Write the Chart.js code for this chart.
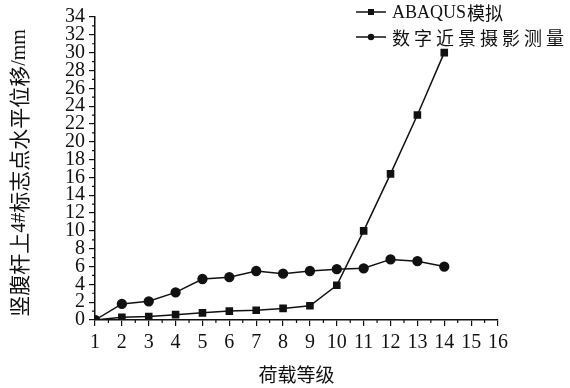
<!DOCTYPE html>
<html>
<head>
<meta charset="utf-8">
<script src="https://cdn.jsdelivr.net/npm/chart.js@4/dist/chart.umd.min.js"></script>
<style>
  html, body { margin: 0; padding: 0; background: #fff; }
  #wrap { width: 570px; height: 388px; position: relative; }
</style>
</head>
<body>
<div id="wrap"><canvas id="c" width="570" height="388"></canvas></div>
<script>
// Load levels and horizontal displacement (mm) of marker point 4# on the vertical web member
const loadLevels = [1, 2, 3, 4, 5, 6, 7, 8, 9, 10, 11, 12, 13, 14];
const abaqusSim = [0, 0.3, 0.4, 0.6, 0.8, 1.0, 1.1, 1.3, 1.6, 3.9, 10.0, 16.4, 23.0, 30.0];
const photoMeasured = [0, 1.8, 2.1, 3.1, 4.6, 4.8, 5.5, 5.2, 5.5, 5.7, 5.8, 6.8, 6.6, 6.0];
const seriesNames = ['ABAQUS模拟', '数字近景摄影测量'];
const xTitle = '荷载等级';
const yTitle = '竖腹杆上4#标志点水平位移/mm';

const serifFamily = 'Liberation Serif, DejaVu Serif, serif';
const numFont = { family: serifFamily, size: 20 };
const cjkFamily = 'Noto Sans CJK SC, Liberation Serif, serif';

const toPoints = ys => loadLevels.map((x, i) => ({ x, y: ys[i] }));

// split text into runs of CJK and Latin so each gets its own font
function runs(text) {
  const out = [];
  for (const ch of text) {
    const cjk = /[\u3000-\u9fff]/.test(ch);
    if (out.length && out[out.length - 1].cjk === cjk) out[out.length - 1].s += ch;
    else out.push({ s: ch, cjk });
  }
  return out;
}

// Half-step minor ticks, rotated y title and the line/marker legend
const extras = {
  id: 'extras',
  afterDraw(chart) {
    const { ctx, scales: { x, y } } = chart;
    ctx.save();
    ctx.strokeStyle = '#111';
    ctx.lineWidth = 1.2;
    ctx.beginPath();
    for (let v = 1.5; v < 16; v += 1) {
      const px = x.getPixelForValue(v);
      ctx.moveTo(px, y.bottom); ctx.lineTo(px, y.bottom + 3);
    }
    for (let v = 1; v < 34; v += 2) {
      const py = y.getPixelForValue(v);
      ctx.moveTo(x.left, py); ctx.lineTo(x.left - 3, py);
    }
    ctx.stroke();

    // y title
    const parts = runs(yTitle);
    const fontOf = p => p.cjk ? '21px ' + cjkFamily : '20px ' + serifFamily;
    let total = 0;
    parts.forEach(p => { ctx.font = fontOf(p); p.w = ctx.measureText(p.s).width; total += p.w; });
    ctx.save();
    ctx.translate(19, 173);
    ctx.rotate(-Math.PI / 2);
    ctx.fillStyle = '#111';
    ctx.textBaseline = 'middle';
    ctx.textAlign = 'left';
    let cx = -total / 2;
    parts.forEach(p => { ctx.font = fontOf(p); ctx.fillText(p.s, cx, p.cjk ? 0 : 1); cx += p.w; });
    ctx.restore();

    // legend
    const items = [
      { text: seriesNames[0], style: 'rect', y: 12, spacing: '0px' },
      { text: seriesNames[1], style: 'circle', y: 37, spacing: '4px' }
    ];
    items.forEach(it => {
      ctx.strokeStyle = '#111';
      ctx.lineWidth = 1.5;
      ctx.beginPath();
      ctx.moveTo(356, it.y); ctx.lineTo(386, it.y);
      ctx.stroke();
      ctx.fillStyle = '#111';
      if (it.style === 'rect') {
        ctx.fillRect(368, it.y - 3, 6, 6);
      } else {
        ctx.beginPath(); ctx.arc(371, it.y, 3.2, 0, Math.PI * 2); ctx.fill();
      }
      ctx.textBaseline = 'middle';
      ctx.textAlign = 'left';
      ctx.letterSpacing = it.spacing;
      let tx = 392;
      runs(it.text).forEach(p => {
        ctx.font = '18px ' + (p.cjk ? cjkFamily : serifFamily);
        ctx.fillText(p.s, tx, it.y + 1);
        tx += ctx.measureText(p.s).width + 1;
      });
    });
    ctx.restore();
  }
};

new Chart(document.getElementById('c'), {
  type: 'line',
  data: {
    datasets: [
      {
        label: seriesNames[0],
        data: toPoints(abaqusSim),
        borderColor: '#111', backgroundColor: '#111',
        borderWidth: 1.5, pointStyle: 'rect', pointRadius: 4.3, tension: 0
      },
      {
        label: seriesNames[1],
        data: toPoints(photoMeasured),
        borderColor: '#111', backgroundColor: '#111',
        borderWidth: 1.5, pointStyle: 'circle', pointRadius: 4.4, tension: 0
      }
    ]
  },
  options: {
    responsive: false,
    animation: false,
    layout: { padding: { top: 17, right: 72, left: 0, bottom: 0 } },
    plugins: { legend: { display: false }, tooltip: { enabled: false } },
    scales: {
      x: {
        type: 'linear', min: 1, max: 16,
        border: { color: '#111', width: 1.5 },
        grid: { drawOnChartArea: false, drawTicks: true, tickLength: 6, color: '#111', lineWidth: 1.2 },
        ticks: { stepSize: 1, autoSkip: false, maxRotation: 0, color: '#111', font: numFont, padding: 5 },
        title: { display: true, text: xTitle, color: '#111', font: { family: cjkFamily, size: 19 }, padding: { top: 0, bottom: 2 } },
        afterFit(s) { s.height = 68; }
      },
      y: {
        min: 0, max: 34,
        border: { color: '#111', width: 1.5 },
        grid: { drawOnChartArea: false, drawTicks: true, tickLength: 6, color: '#111', lineWidth: 1.2 },
        ticks: { stepSize: 2, autoSkip: false, color: '#111', font: numFont, padding: 4 },
        afterFit(s) { s.width = 95; }
      }
    }
  },
  plugins: [extras]
});
</script>
</body>
</html>
